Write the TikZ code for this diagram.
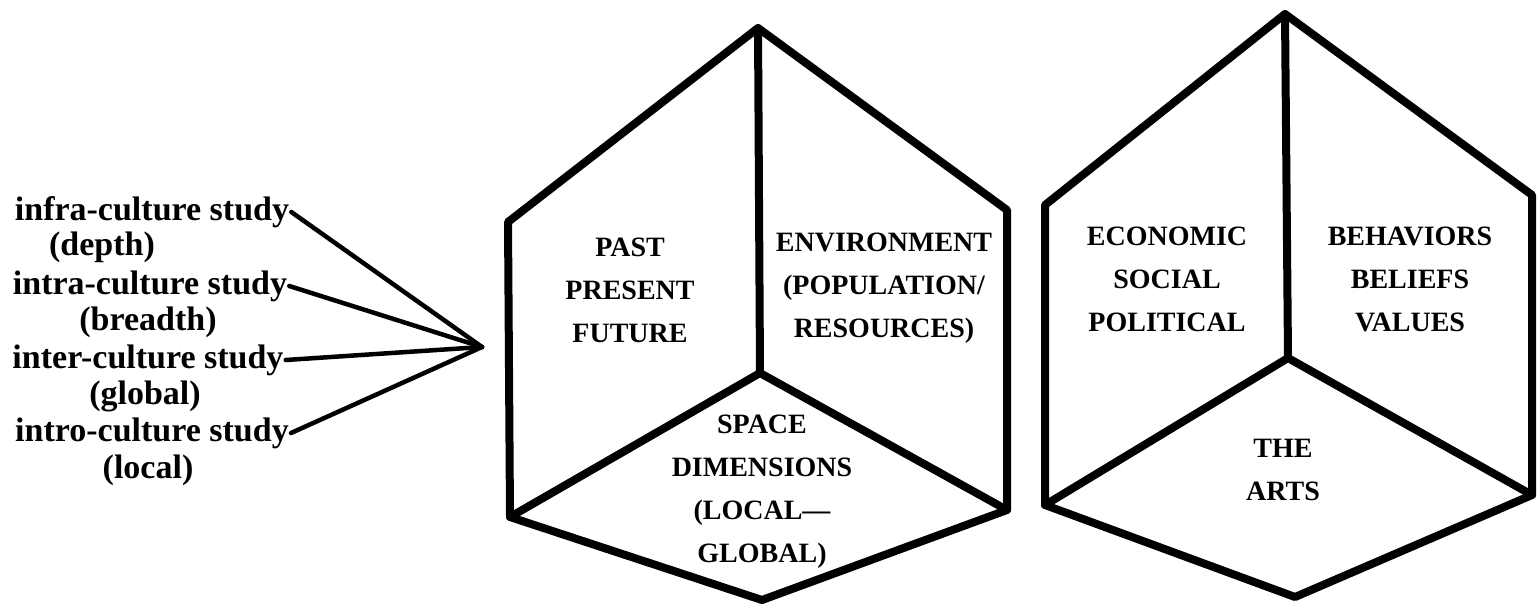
\documentclass[tikz,border=0pt]{standalone}
\usepackage{fontspec}
\setmainfont{Liberation Serif}
\begin{document}
\begin{tikzpicture}[x=1pt,y=-1pt,
  cube/.style={line width=8pt,line join=round,line cap=round},
  conn/.style={line width=4.5pt,line cap=round},
  lbl/.style={font=\fontsize{34}{37}\selectfont\bfseries,inner sep=2pt},
  face/.style={font=\fontsize{28}{43}\selectfont\bfseries,align=center,inner sep=0pt}]
\useasboundingbox (0,0) rectangle (1538,605);
% left labels
\node[lbl] (infra)   at (152,212) {infra-culture study};
\node[lbl] (depth)   at (102,247) {(depth)};
\node[lbl] (intra)   at (150,286) {intra-culture study};
\node[lbl] (breadth) at (148,322) {(breadth)};
\node[lbl] (inter)   at (148,360) {inter-culture study};
\node[lbl] (global)  at (145,396) {(global)};
\node[lbl] (intro)   at (152,433) {intro-culture study};
\node[lbl] (local)   at (148,470) {(local)};
\coordinate (hub) at (482,347);
\draw[conn] (infra.east) -- (hub);
\draw[conn] (intra.east) -- (hub);
\draw[conn] (inter.east) -- (hub);
\draw[conn] (intro.east) -- (hub);
% left cube
\coordinate (A1) at (758,28);
\coordinate (B1) at (508,222);
\coordinate (C1) at (510,517);
\coordinate (D1) at (762,600);
\coordinate (E1) at (1007,510);
\coordinate (F1) at (1007,210);
\coordinate (O1) at (760,373);
\draw[cube] (A1) -- (B1) -- (C1) -- (D1) -- (E1) -- (F1) -- cycle;
\draw[cube] (A1) -- (O1) -- (C1) (O1) -- (E1);
% right cube
\coordinate (A2) at (1285,14);
\coordinate (B2) at (1045,205);
\coordinate (C2) at (1045,505);
\coordinate (D2) at (1295,597);
\coordinate (E2) at (1532,495);
\coordinate (F2) at (1532,195);
\coordinate (O2) at (1288,358);
\draw[cube] (A2) -- (B2) -- (C2) -- (D2) -- (E2) -- (F2) -- cycle;
\draw[cube] (A2) -- (O2) -- (C2) (O2) -- (E2);
% face texts
\node[face] (t1) at (630,290) {PAST\\PRESENT\\FUTURE};
\node[face] (t2) at (884,288) {ENVIRONMENT\\(POPULATION/\\RESOURCES)};
\node[face] (t3) at (762,492) {SPACE\\DIMENSIONS\\(LOCAL—\\GLOBAL)};
\node[face] (t4) at (1167,279) {ECONOMIC\\SOCIAL\\POLITICAL};
\node[face] (t5) at (1410,279) {BEHAVIORS\\BELIEFS\\VALUES};
\node[face] (t6) at (1283,470) {THE\\ARTS};
\end{tikzpicture}
\end{document}
